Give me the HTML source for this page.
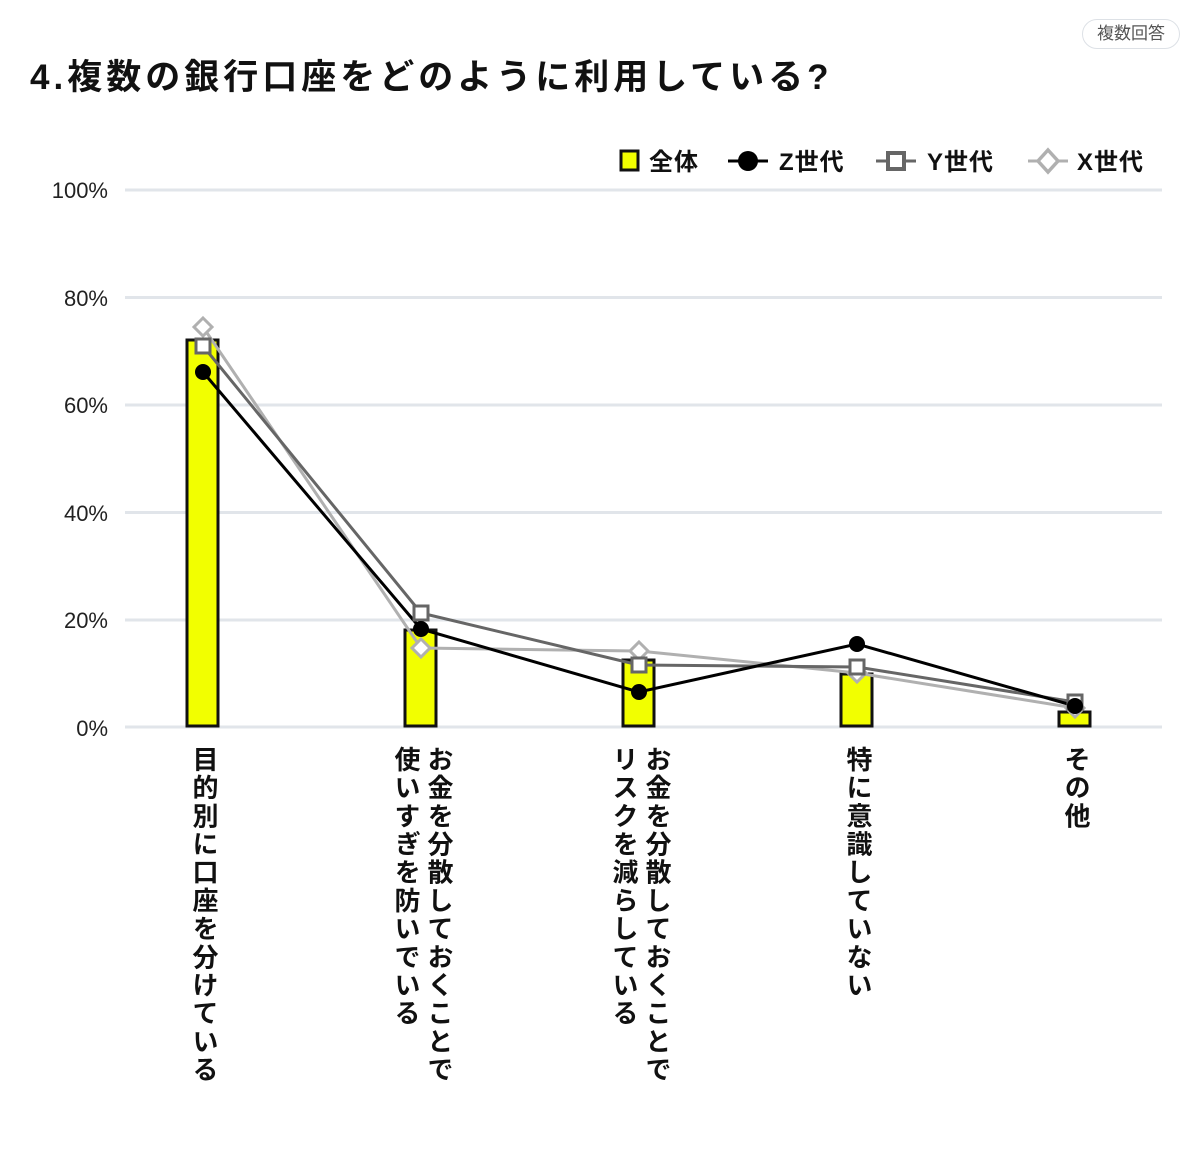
<!DOCTYPE html>
<html><head><meta charset="utf-8"><style>
body{margin:0;width:1200px;height:1171px;background:#fff;position:relative;font-family:"Liberation Sans","Noto Sans CJK JP",sans-serif;overflow:hidden}
.title{position:absolute;left:30px;top:49px;font-size:35px;font-weight:bold;letter-spacing:4px;white-space:nowrap;color:#111}
.badge{position:absolute;left:1082px;top:19px;width:96px;height:28px;border:1.5px solid #dde1e6;border-radius:15px;font-size:17px;color:#555;text-align:center;line-height:28px}
.lab{position:absolute;top:746px;writing-mode:vertical-rl;font-size:26px;font-weight:bold;letter-spacing:2.2px;line-height:33px;color:#111;white-space:nowrap}
</style></head><body>
<div class="title">4.複数の銀行口座をどのように利用している?</div>
<div class="badge">複数回答</div>
<svg width="1200" height="1171" style="position:absolute;left:0;top:0">
<g stroke="#e1e5ea" stroke-width="3">
<line x1="125" x2="1162" y1="190" y2="190"/><line x1="125" x2="1162" y1="297.5" y2="297.5"/>
<line x1="125" x2="1162" y1="405" y2="405"/><line x1="125" x2="1162" y1="512.5" y2="512.5"/>
<line x1="125" x2="1162" y1="620" y2="620"/><line x1="125" x2="1162" y1="727" y2="727"/>
</g>
<g font-size="22" fill="#222" text-anchor="end" font-family="Liberation Sans,sans-serif">
<text x="108" y="198">100%</text><text x="108" y="306">80%</text><text x="108" y="413">60%</text>
<text x="108" y="521">40%</text><text x="108" y="628">20%</text><text x="108" y="736">0%</text>
</g>
<g fill="#f2ff00" stroke="#111" stroke-width="3">
<rect x="187" y="340" width="31" height="386"/>
<rect x="405" y="630" width="31" height="96"/>
<rect x="623" y="660" width="31" height="66"/>
<rect x="841" y="674" width="31" height="52"/>
<rect x="1059" y="712" width="31" height="14"/>
</g>
<g fill="none" stroke-width="3">
<polyline stroke="#b0b0b0" points="203,327 421,648 639,651 857,673 1075,708"/>
<polyline stroke="#666" points="203,346 421,613 639,665 857,667 1075,702"/>
<polyline stroke="#000" points="203,372 421,629 639,692 857,644 1075,706"/>
</g>
<g fill="#fff" stroke="#b0b0b0" stroke-width="3">
<path d="M203,318l9,9l-9,9l-9,-9z"/><path d="M421,639l9,9l-9,9l-9,-9z"/><path d="M639,642l9,9l-9,9l-9,-9z"/><path d="M857,664l9,9l-9,9l-9,-9z"/><path d="M1075,699l9,9l-9,9l-9,-9z"/>
</g>
<g fill="#fff" stroke="#666" stroke-width="3">
<rect x="196" y="339" width="14" height="14"/><rect x="414" y="606" width="14" height="14"/><rect x="632" y="658" width="14" height="14"/><rect x="850" y="660" width="14" height="14"/><rect x="1068" y="695" width="14" height="14"/>
</g>
<g fill="#000">
<circle cx="203" cy="372" r="8"/><circle cx="421" cy="629" r="8"/><circle cx="639" cy="692" r="8"/><circle cx="857" cy="644" r="8"/><circle cx="1075" cy="706" r="8"/>
</g>
<line x1="728" x2="768" y1="161" y2="161" stroke="#000" stroke-width="3"/><circle cx="748" cy="161" r="10" fill="#000"/>
<line x1="876" x2="916" y1="161" y2="161" stroke="#666" stroke-width="3"/><rect x="888" y="153" width="16" height="16" fill="#fff" stroke="#666" stroke-width="4"/>
<line x1="1028" x2="1068" y1="161" y2="161" stroke="#b0b0b0" stroke-width="3"/><path d="M1048,150l10,11l-10,11l-10,-11z" fill="#fff" stroke="#b0b0b0" stroke-width="3.5"/>
<rect x="621" y="151" width="17" height="19" fill="#f2ff00" stroke="#111" stroke-width="3"/>
<g font-size="24" font-weight="bold" fill="#111">
<text x="649" y="170" letter-spacing="1">全体</text><text x="779" y="170" letter-spacing="1">Z世代</text><text x="927" y="170" letter-spacing="1">Y世代</text><text x="1077" y="170" letter-spacing="1">X世代</text>
</g>
</svg>
<div class="lab" style="left:187px">目的別に口座を分けている</div>
<div class="lab" style="left:389px">お金を分散しておくことで<br>使いすぎを防いでいる</div>
<div class="lab" style="left:607px">お金を分散しておくことで<br>リスクを減らしている</div>
<div class="lab" style="left:841px">特に意識していない</div>
<div class="lab" style="left:1059px">その他</div>
</body></html>
